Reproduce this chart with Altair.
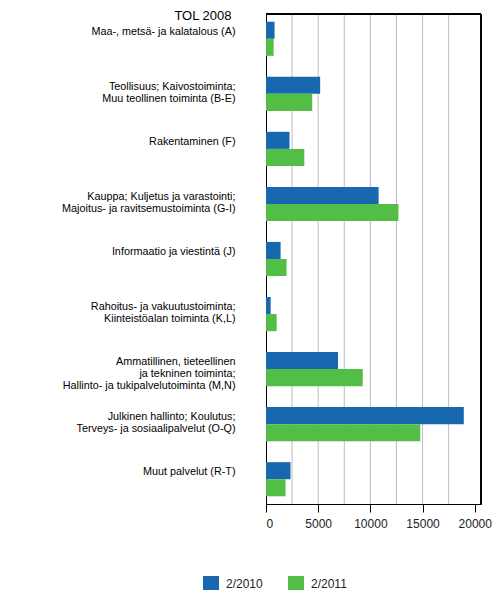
import altair as alt
import pandas as pd

categories = [
    "Maa-, metsä- ja kalatalous (A)",
    "Teollisuus; Kaivostoiminta;|Muu teollinen toiminta (B-E)",
    "Rakentaminen (F)",
    "Kauppa; Kuljetus ja varastointi;|Majoitus- ja ravitsemustoiminta (G-I)",
    "Informaatio ja viestintä (J)",
    "Rahoitus- ja vakuutustoiminta;|Kiinteistöalan toiminta (K,L)",
    "Ammatillinen, tieteellinen|ja tekninen toiminta;|Hallinto- ja tukipalvelutoiminta (M,N)",
    "Julkinen hallinto; Koulutus;|Terveys- ja sosiaalipalvelut (O-Q)",
    "Muut palvelut (R-T)",
]
series = ["2/2010", "2/2011"]
values_2010 = [820, 5190, 2250, 10790, 1400, 450, 6900, 18950, 2350]
values_2011 = [730, 4430, 3670, 12690, 1970, 1020, 9270, 14780, 1870]
colors = ["#1868b0", "#52be45"]
x_ticks = [0, 5000, 10000, 15000, 20000]
grid_values = [2500, 5000, 7500, 10000, 12500, 15000, 17500]

W, H = 215, 490

rows = []
for c, v1, v2 in zip(categories, values_2010, values_2011):
    rows.append({"cat": c, "series": series[0], "value": v1})
    rows.append({"cat": c, "series": series[1], "value": v2})
df = pd.DataFrame(rows)
grid_df = pd.DataFrame({"value": grid_values})

FONT = "Liberation Sans"
xscale = alt.Scale(domain=[0, 20600], nice=False, zero=True)
x_axis = alt.Axis(
    title=None,
    values=x_ticks,
    grid=False,
    format="d",
    labelFont=FONT,
    labelFontSize=12,
    labelColor="#222222",
    labelPadding=6,
    ticks=True,
    tickColor="#000000",
    tickSize=8,
    domainColor="#000000",
)

grid = alt.Chart(grid_df).mark_rule(color="#bdbdbd", strokeWidth=1).encode(
    x=alt.X("value:Q", scale=xscale, axis=x_axis)
)

bars = alt.Chart(df).mark_bar().encode(
    y=alt.Y(
        "cat:N",
        sort=categories,
        scale=alt.Scale(paddingInner=0.38, paddingOuter=0.14),
        axis=alt.Axis(
            title="TOL 2008",
            titleAngle=0,
            titleAlign="right",
            titleBaseline="alphabetic",
            titleX=-35,
            titleY=5,
            titleFontSize=13,
            titleFontWeight="normal",
            titleFont=FONT,
            titleColor="#000000",
            labelExpr="split(datum.label, '|')",
            labelFont=FONT,
            labelFontSize=10.8,
            labelLineHeight=12,
            labelColor="#000000",
            labelPadding=31,
            labelOffset=-7,
            labelLimit=300,
            ticks=False,
            tickSize=0,
            domainColor="#000000",
            grid=False,
        ),
    ),
    yOffset=alt.YOffset("series:N", sort=series, scale=alt.Scale(paddingInner=0, paddingOuter=0)),
    x=alt.X("value:Q", scale=xscale, axis=x_axis),
    color=alt.Color(
        "series:N",
        sort=series,
        scale=alt.Scale(domain=series, range=colors),
        legend=alt.Legend(
            title=None,
            orient="none",
            legendX=-63,
            legendY=562,
            direction="horizontal",
            symbolType="square",
            symbolSize=256,
            symbolStrokeWidth=0,
            symbolOpacity=1,
            labelFont=FONT,
            labelFontSize=12,
            labelColor="#222222",
            labelOffset=7,
            columnPadding=25,
        ),
    ),
)

frame_top = alt.Chart(grid_df).mark_rule(color="#000000", strokeWidth=1).encode(
    x=alt.value(0), x2=alt.value(W), y=alt.value(0)
)
frame_right = alt.Chart(grid_df).mark_rule(color="#000000", strokeWidth=1).encode(
    x=alt.value(W), y=alt.value(0), y2=alt.value(H)
)

chart = alt.layer(grid, bars, frame_top, frame_right).properties(
    width=W,
    height=H,
    autosize=alt.AutoSizeParams(type="none"),
    padding={"left": 258, "top": 6, "right": 11, "bottom": 86},
).configure_view(stroke="#000000", strokeWidth=1, strokeOpacity=1)

chart.save("out.html", embed_options={"renderer": "svg", "actions": False})
